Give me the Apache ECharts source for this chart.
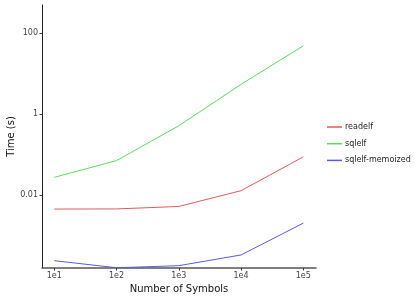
<!DOCTYPE html>
<html>
<head>
<meta charset="utf-8">
<script src="https://cdn.jsdelivr.net/npm/echarts@6/dist/echarts.min.js"></script>
<style>html,body{margin:0;padding:0;background:#fff}#c{width:415px;height:300px}</style>
</head>
<body>
<div id="c"></div>
<script>
const categories = ['1e1', '1e2', '1e3', '1e4', '1e5'];
const symbols = [10, 100, 1000, 10000, 100000];
const readelf = [0.00449, 0.00452, 0.00521, 0.0128, 0.0879];
const sqlelf = [0.0274, 0.0711, 0.518, 5.5, 49.2];
const sqlelfMemoized = [0.000237, 0.000158, 0.000178, 0.000328, 0.00201];
const yTicks = [0.01, 1, 100];
const seriesNames = ['readelf', 'sqlelf', 'sqlelf-memoized'];
const colors = ['#e25a5a', '#5cdc5c', '#5a5ae6'];

const font = 'DejaVu Sans';
const lg = Math.log10;
const chart = echarts.init(document.getElementById('c'), null, {renderer: 'canvas'});
const all = [readelf, sqlelf, sqlelfMemoized];
const mk = arr => symbols.map((s, i) => [lg(s), lg(arr[i])]);
const xTickPos = symbols.map(lg);
const yTickPos = yTicks.map(lg);
chart.setOption({
  animation: false,
  color: colors,
  grid: {left: 42, right: 99, top: 5, bottom: 32, containLabel: false, outerBoundsMode: 'none'},
  legend: {
    orient: 'vertical', left: 327, top: 123, itemGap: 8.7, padding: 0,
    itemWidth: 15, itemHeight: 1.5, icon: 'rect',
    textStyle: {fontFamily: font, fontSize: 8, color: '#222', padding: [0, 0, 0, -2]},
    data: seriesNames
  },
  xAxis: {
    type: 'value', min: 0.802, max: 5.204,
    name: 'Number of Symbols', nameLocation: 'middle', nameGap: 15,
    nameTextStyle: {fontFamily: font, fontSize: 10, color: '#111'},
    axisLine: {onZero: false, lineStyle: {color: '#555', width: 1.5}},
    axisTick: {show: true, length: 2.5, lineStyle: {color: '#333'}, customValues: xTickPos},
    axisLabel: {fontFamily: font, fontSize: 8, color: '#444', margin: 4, customValues: xTickPos,
      formatter: v => categories[Math.round(v) - 1]},
    splitLine: {show: false}
  },
  yAxis: {
    type: 'value', min: lg(0.000156), max: lg(505),
    name: 'Time (s)', nameLocation: 'middle', nameGap: 26, nameMoveOverlap: false,
    nameTextStyle: {fontFamily: font, fontSize: 10, color: '#111'},
    axisLine: {show: true, onZero: false, lineStyle: {color: '#222', width: 1}},
    axisTick: {show: true, length: 2.5, lineStyle: {color: '#333'}, customValues: yTickPos},
    axisLabel: {fontFamily: font, fontSize: 8, color: '#444', margin: 4, customValues: yTickPos,
      formatter: v => String(+Math.pow(10, v).toPrecision(3))},
    splitLine: {show: false}
  },
  series: seriesNames.map((n, i) => ({
    name: n, type: 'line', data: mk(all[i]), showSymbol: false, symbol: 'none',
    lineStyle: {width: 1, color: colors[i]}, itemStyle: {color: colors[i]}
  }))
});
</script>
</body>
</html>
